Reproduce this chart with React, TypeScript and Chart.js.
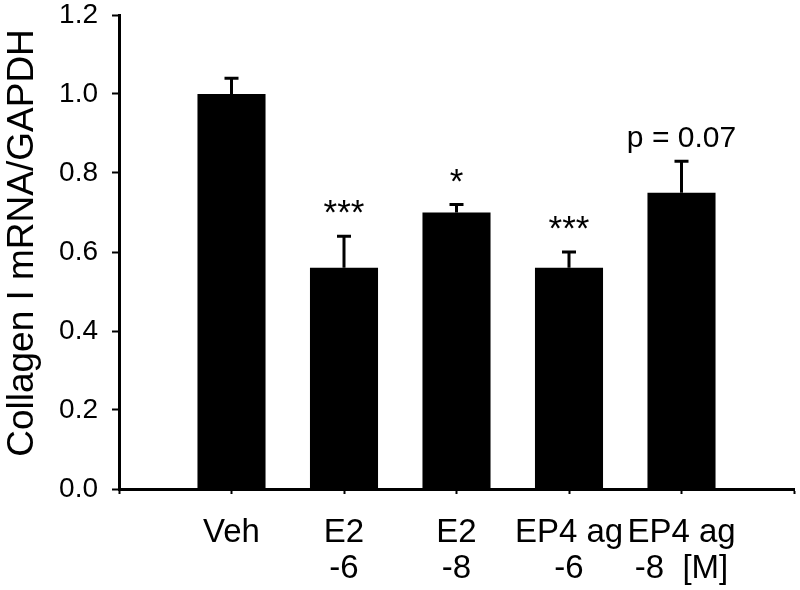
import React, { useEffect, useRef } from "react";
import { Chart, registerables } from "chart.js";

Chart.register(...registerables);

const categories: string[][] = [
  ["Veh"],
  ["E2", "-6"],
  ["E2", "-8"],
  ["EP4 ag", "-6"],
  ["EP4 ag", "-8  [M]"],
];
const values = [1.0, 0.56, 0.7, 0.56, 0.75];
const errors = [0.04, 0.08, 0.02, 0.04, 0.08];
const annotations = ["", "***", "*", "***", "p = 0.07"];
const yTicks = [0, 0.2, 0.4, 0.6, 0.8, 1.0, 1.2];
const yTitle = "Collagen I mRNA/GAPDH";

const FONT = "'Liberation Sans', Arial, sans-serif";

const errorBarPlugin = {
  id: "errorBars",
  afterDatasetsDraw(chart: any) {
    const meta = chart.getDatasetMeta(0);
    const yScale = chart.scales.y;
    const ctx = chart.ctx;
    ctx.save();
    ctx.strokeStyle = "#000";
    ctx.fillStyle = "#000";
    ctx.lineWidth = 3;
    meta.data.forEach((el: any, idx: number) => {
      const i = idx - 1;
      if (i < 0 || i >= values.length) return;
      const x = el.x;
      const yBar = yScale.getPixelForValue(values[i]);
      const yTop = yScale.getPixelForValue(values[i] + errors[i]);
      ctx.beginPath();
      ctx.moveTo(x, yBar);
      ctx.lineTo(x, yTop);
      ctx.moveTo(x - 7, yTop);
      ctx.lineTo(x + 7, yTop);
      ctx.stroke();
      const a = annotations[i];
      if (a) {
        const isStars = /^\*+$/.test(a);
        ctx.font = `${isStars ? 35 : 30}px ${FONT}`;
        ctx.textAlign = "center";
        ctx.textBaseline = "alphabetic";
        ctx.fillText(a, x, yTop - (isStars ? 12 : 14));
      }
    });
    ctx.restore();
  },
};

const yTitlePlugin = {
  id: "yTitle",
  afterDraw(chart: any) {
    const ctx = chart.ctx;
    const area = chart.chartArea;
    ctx.save();
    ctx.fillStyle = "#000";
    ctx.font = `37px ${FONT}`;
    ctx.textAlign = "center";
    ctx.textBaseline = "alphabetic";
    ctx.translate(33, (area.top + area.bottom) / 2 - 9);
    ctx.rotate(-Math.PI / 2);
    ctx.fillText(yTitle, 0, 0);
    ctx.restore();
  },
};

export default function App() {
  const ref = useRef<HTMLCanvasElement | null>(null);
  useEffect(() => {
    if (!ref.current) return;
    const labels: any[] = ["", ...categories, ""];
    const data: (number | null)[] = [null, ...values, null];
    const chart = new Chart(ref.current, {
      type: "bar",
      data: {
        labels,
        datasets: [
          {
            data,
            backgroundColor: "#000",
            borderWidth: 0,
            barPercentage: 0.605,
            categoryPercentage: 1,
          },
        ],
      },
      options: {
        animation: false,
        responsive: true,
        maintainAspectRatio: false,
        layout: { padding: { left: 0, right: 6, top: 15, bottom: 0 } },
        plugins: {
          legend: { display: false },
          tooltip: { enabled: false },
        },
        scales: {
          x: {
            type: "category",
            offset: false,
            border: { display: true, color: "#000", width: 3 },
            grid: {
              offset: false,
              drawOnChartArea: false,
              drawTicks: true,
              tickLength: 5,
              tickWidth: 2,
              tickColor: "#000",
            },
            ticks: {
              autoSkip: false,
              maxRotation: 0,
              minRotation: 0,
              padding: 21,
              color: "#000",
              font: { family: FONT, size: 33, lineHeight: 1.09 },
            },
            afterFit(scale: any) {
              scale.height = 101;
              scale.paddingLeft = 0;
              scale.paddingRight = 0;
            },
          },
          y: {
            min: 0,
            max: 1.2,
            border: { display: true, color: "#000", width: 3 },
            grid: {
              drawOnChartArea: false,
              drawTicks: true,
              tickLength: 7,
              tickWidth: 2,
              tickColor: "#000",
            },
            afterBuildTicks(scale: any) {
              scale.ticks = yTicks.map((v) => ({ value: v }));
            },
            ticks: {
              padding: 14,
              color: "#000",
              font: { family: FONT, size: 28, lineHeight: 1.0 },
              callback: (v: any) => Number(v).toFixed(1),
            },
            title: { display: false },
            afterFit(scale: any) {
              scale.width = 119;
              scale.paddingTop = 0;
              scale.paddingBottom = 0;
            },
          },
        },
      },
      plugins: [errorBarPlugin, yTitlePlugin],
    });
    return () => chart.destroy();
  }, []);
  return (
    <div style={{ position: "absolute", left: 0, top: 0, width: 800, height: 590, background: "#fff" }}>
      <canvas ref={ref} />
    </div>
  );
}
